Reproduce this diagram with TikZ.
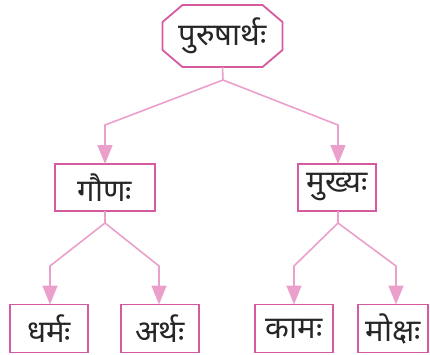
\documentclass[tikz,border=0pt]{standalone}
\usepackage{fontspec}
\newfontfamily\deva[Script=Devanagari]{Noto Sans}
\usetikzlibrary{arrows.meta}
\definecolor{boxc}{HTML}{D65AA0}
\definecolor{linec}{HTML}{EBA0CB}
\begin{document}
\begin{tikzpicture}[x=1pt,y=-1pt,
 box/.style={draw=boxc,line width=1.8pt,fill=white,minimum height=47pt,inner sep=0pt,outer sep=0pt,text=black!85,font=\deva\fontsize{31}{34}\selectfont},
 topbox/.style={box,draw=none,fill=none,minimum width=120pt,minimum height=62pt},
 conn/.style={draw=linec,line width=1.6pt},
 arr/.style={conn,-{Triangle[width=15pt,length=19pt]}}]
\useasboundingbox (0,0) rectangle (430,354);
\node[topbox] (top) at (222.5,36) {पुरुषार्थः};
\draw[draw=boxc,line width=1.8pt,line join=miter]
  ([xshift=20pt]top.north west) -- ([xshift=-20pt]top.north east)
  -- ([yshift=-17pt]top.north east) -- ([yshift=17pt]top.south east)
  -- ([xshift=-20pt]top.south east) -- ([xshift=20pt]top.south west)
  -- ([yshift=17pt]top.south west) -- ([yshift=-17pt]top.north west) -- cycle;
\node[box,minimum width=100pt] (gauna) at (105,187.5) {गौणः};
\node[box,minimum width=78pt] (mukhya) at (337,187.5) {मुख्यः};
\node[box,minimum width=78pt,minimum height=48pt] (dharma) at (49,328.5) {धर्मः};
\node[box,minimum width=78pt,minimum height=48pt] (artha) at (160,328.5) {अर्थः};
\node[box,minimum width=78pt,minimum height=48pt] (kama) at (294,328.5) {कामः};
\node[box,minimum width=70pt,minimum height=48pt] (moksha) at (393,328.5) {मोक्षः};
\coordinate (j0) at (223,80);
\coordinate (b1) at (105,125);
\coordinate (b2) at (338,125);
\coordinate (j1) at (105,223);
\coordinate (b3) at (50,266);
\coordinate (b4) at (159,266);
\coordinate (j2) at (338,223);
\coordinate (b5) at (294,266);
\coordinate (b6) at (396,266);
\draw[conn] (top.south) -- (j0);
\draw[arr] (j0) -- (b1) -- (gauna.north);
\draw[arr] (j0) -- (b2) -- (mukhya.north -| b2);
\draw[conn] (gauna.south) -- (j1);
\draw[arr] (j1) -- (b3) -- (dharma.north -| b3);
\draw[arr] (j1) -- (b4) -- (artha.north -| b4);
\draw[conn] (mukhya.south -| j2) -- (j2);
\draw[arr] (j2) -- (b5) -- (kama.north -| b5);
\draw[arr] (j2) -- (b6) -- (moksha.north -| b6);
\end{tikzpicture}
\end{document}
